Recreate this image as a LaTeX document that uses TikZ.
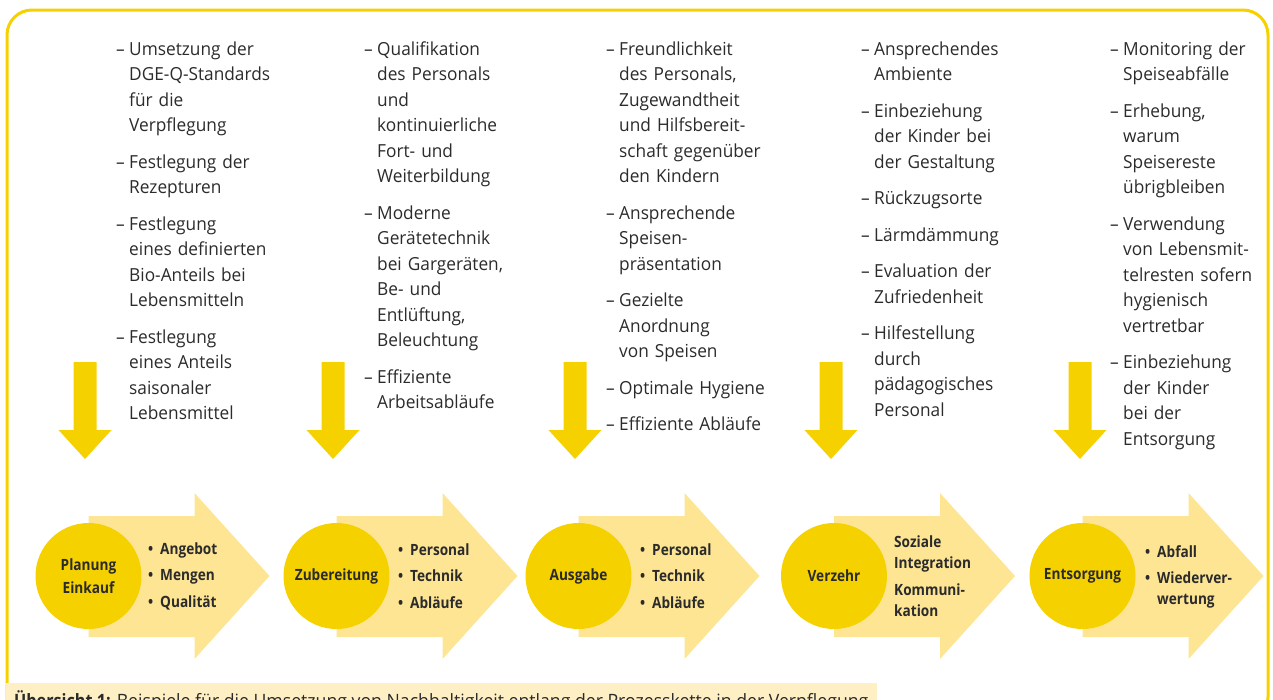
\documentclass[tikz,border=0pt]{standalone}
\usepackage{fontspec}
\setmainfont{Open Sans}[FakeStretch=0.96]
\newfontfamily\bfam{Open Sans}[FakeStretch=0.88]
\definecolor{gold}{HTML}{F6D100}
\definecolor{pale}{HTML}{FDE594}
\definecolor{capfill}{HTML}{FEEFC4}
\definecolor{txt}{HTML}{2B2B2B}
\newcommand\nl{\newline}
\newcommand\dfirst{\noindent\hangindent=14pt\hangafter=0\llap{–\hspace{4.5pt}}\ignorespaces}
\newcommand\ditem{\par\vspace{11pt}\dfirst}
\newcommand\bigarrow[1]{\fill[pale] (#1,516) -- (#1+106,516) -- (#1+106,493) -- (#1+181,576) -- (#1+106,659) -- (#1+106,637) -- (#1,637) -- cycle;}
\newcommand\dnarrow[1]{\fill[gold] (#1-11.5,362) -- (#1+11.5,362) -- (#1+11.5,430) -- (#1+26.5,430) -- (#1,459) -- (#1-26.5,430) -- (#1-11.5,430) -- cycle;}
\begin{document}
\begin{tikzpicture}[x=1pt,y=-1pt,
  col/.style={anchor=base west, text width=190pt, align=left, inner sep=0pt, text=txt,
    font=\fontsize{18}{25.5}\selectfont},
  circ/.style={circle, fill=gold, minimum size=106pt, inner sep=0pt, align=center, text=txt,
    font=\fontsize{15.5}{23}\selectfont\bfam\bfseries},
  btxt/.style={anchor=west, align=left, inner sep=0pt, text=txt,
    font=\fontsize{15.5}{21.5}\selectfont\bfam\bfseries},
  frame/.style={draw=gold, line width=3pt, rounded corners=25pt}]
\useasboundingbox (0,0) rectangle (1273,699);
\clip (0,0) rectangle (1273,699);
\draw[frame] (7,10) rectangle (1268,722);
\fill[capfill] (6,683) rectangle (877,725);
\node[anchor=base west, inner sep=0pt, text=txt, font=\fontsize{18.4}{22}\selectfont] (cap) at (14,707.5)
  {{\bfam\bfseries Übersicht 1:} Beispiele für die Umsetzung von Nachhaltigkeit entlang der Prozesskette in der Verpflegung};

% text columns
\node[col] (c1) at (115,55) {\dfirst Umsetzung der\nl DGE-Q-Standards\nl für die\nl Verpflegung
  \ditem Festlegung der\nl Rezepturen
  \ditem Festlegung\nl eines definierten\nl Bio-Anteils bei\nl Lebensmitteln
  \ditem Festlegung\nl eines Anteils\nl saisonaler\nl Lebensmittel\par};
\node[col] (c2) at (363,55) {\dfirst Qualifikation\nl des Personals\nl und\nl kontinuierliche\nl Fort- und\nl Weiterbildung
  \ditem Moderne\nl Gerätetechnik\nl bei Gargeräten,\nl Be- und\nl Entlüftung,\nl Beleuchtung
  \ditem Effiziente\nl Arbeitsabläufe\par};
\node[col] (c3) at (605,55) {\dfirst Freundlichkeit\nl des Personals,\nl Zugewandtheit\nl und Hilfsbereit-\nl schaft gegenüber\nl den Kindern
  \ditem Ansprechende\nl Speisen-\nl präsentation
  \ditem Gezielte\nl Anordnung\nl von Speisen
  \ditem Optimale Hygiene
  \ditem Effiziente Abläufe\par};
\node[col] (c4) at (860,55) {\dfirst Ansprechendes\nl Ambiente
  \ditem Einbeziehung\nl der Kinder bei\nl der Gestaltung
  \ditem Rückzugsorte
  \ditem Lärmdämmung
  \ditem Evaluation der\nl Zufriedenheit
  \ditem Hilfestellung\nl durch\nl pädagogisches\nl Personal\par};
\node[col] (c5) at (1109,55) {\dfirst Monitoring der\nl Speiseabfälle
  \ditem Erhebung,\nl warum\nl Speisereste\nl übrigbleiben
  \ditem Verwendung\nl von Lebensmit-\nl telresten sofern\nl hygienisch\nl vertretbar
  \ditem Einbeziehung\nl der Kinder\nl bei der\nl Entsorgung\par};

% down arrows
\dnarrow{85}
\dnarrow{333}
\dnarrow{575}
\dnarrow{831}
\dnarrow{1080}

% process arrows
\bigarrow{88.5}
\bigarrow{336.5}
\bigarrow{578.5}
\bigarrow{834}
\bigarrow{1082.5}

\node[circ] (s1) at (88.5,576) {Planung\\Einkauf};
\node[circ] (s2) at (336.5,576) {Zubereitung};
\node[circ] (s3) at (578.5,576) {Ausgabe};
\node[circ] (s4) at (834,576) {Verzehr};
\node[circ] (s5) at (1082.5,576) {Entsorgung};

\node[btxt] (b1) at (148,576) {\makebox[12pt][l]{•}Angebot\\[5pt]\makebox[12pt][l]{•}Mengen\\[5pt]\makebox[12pt][l]{•}Qualität};
\node[btxt] (b2) at (398,576) {\makebox[12pt][l]{•}Personal\\[5pt]\makebox[12pt][l]{•}Technik\\[5pt]\makebox[12pt][l]{•}Abläufe};
\node[btxt] (b3) at (640,576) {\makebox[12pt][l]{•}Personal\\[5pt]\makebox[12pt][l]{•}Technik\\[5pt]\makebox[12pt][l]{•}Abläufe};
\node[btxt] (b4) at (894,576) {Soziale\\Integration\\[5pt]Kommuni-\\kation};
\node[btxt] (b5) at (1145,577) {\makebox[12pt][l]{•}Abfall\\[4pt]\makebox[12pt][l]{•}Wiederver-\\\hspace*{12pt}wertung};
\end{tikzpicture}
\end{document}
